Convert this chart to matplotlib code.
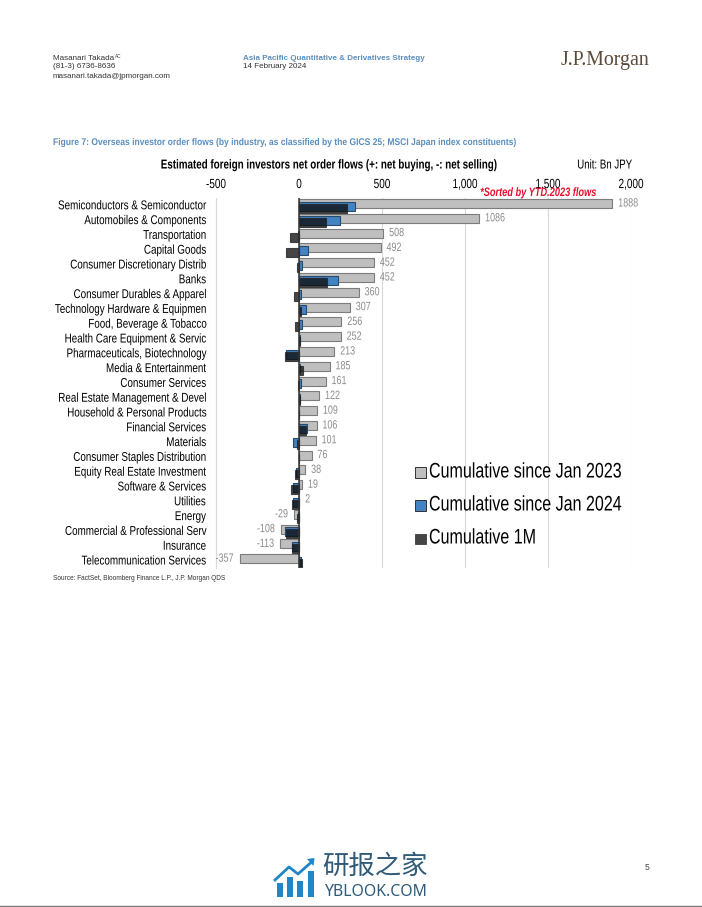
import matplotlib
matplotlib.use("Agg")
import matplotlib.pyplot as plt
from matplotlib.patches import Rectangle, Polygon
from matplotlib.patheffects import AbstractPathEffect
from matplotlib.transforms import Affine2D, Bbox

W, H = 702, 907

categories = ["Semiconductors & Semiconductor", "Automobiles & Components", "Transportation",
              "Capital Goods", "Consumer Discretionary Distrib", "Banks", "Consumer Durables & Apparel",
              "Technology Hardware & Equipmen", "Food, Beverage & Tobacco", "Health Care Equipment & Servic",
              "Pharmaceuticals, Biotechnology", "Media & Entertainment", "Consumer Services",
              "Real Estate Management & Devel", "Household & Personal Products", "Financial Services",
              "Materials", "Consumer Staples Distribution", "Equity Real Estate Investment",
              "Software & Services", "Utilities", "Energy", "Commercial & Professional Serv",
              "Insurance", "Telecommunication Services"]
since_2023 = [1888, 1086, 508, 492, 452, 452, 360, 307, 256, 252, 213, 185, 161, 122, 109, 106, 101, 76, 38, 19, 2, -29, -108, -113, -357]
since_2024 = [337, 247, -5, 55, 20, 235, 10, 40, 20, 5, -78, 5, 15, 5, 0, 50, -37, -3, -20, -35, -35, -5, -85, -40, 15]
one_month = [287, 165, -55, -78, -15, 170, -30, 10, -25, 8, -85, 22, -5, 8, 2, 40, -10, 2, -25, -48, -40, -12, -78, -45, 18]
x_ticks = [-500, 0, 500, 1000, 1500, 2000]
x_tick_labels = ["-500", "0", "500", "1,000", "1,500", "2,000"]
legend_labels = ["Cumulative since Jan 2023", "Cumulative since Jan 2024", "Cumulative 1M"]

GREY, BLUE, BLACK = "#bfbfbf", "#4283c4", "#101010"
plt.rcParams['font.family'] = ['Liberation Sans', 'DejaVu Sans']
fig = plt.figure(figsize=(W / 100, H / 100), dpi=100)


class Squeeze(AbstractPathEffect):
    """Condense drawn text horizontally about a pixel x (no narrow face is installed)."""
    def __init__(self, sx, x0, dy=0):
        super().__init__()
        self.sx, self.x0, self.dy = sx, x0, dy

    def draw_path(self, renderer, gc, tpath, affine, rgbFace=None):
        a = affine + Affine2D().translate(-self.x0, self.dy).scale(self.sx, 1).translate(self.x0, 0)
        renderer.draw_path(gc, tpath, a, rgbFace)


def squeeze(t, sx, x0, dy=0):
    t.set_path_effects([Squeeze(sx, x0, dy)])
    orig = t.get_window_extent

    def ext(renderer=None, dpi=None):
        b = orig(renderer, dpi)
        return Bbox.from_extents(x0 + (b.x0 - x0) * sx, b.y0 + dy, x0 + (b.x1 - x0) * sx, b.y1 + dy)
    t.get_window_extent = ext
    return t


def fx(x): return x / W
def fy(y): return 1 - y / H
def T(x, y, s, size, color='k', ha='left', va='center', sx=None, **kw):
    t = fig.text(fx(x), fy(y), s, fontsize=size, color=color, ha=ha, va=va, **kw)
    if sx:
        squeeze(t, sx, x)
    return t


left, right, top, bottom = 216, 631, 198, 568
ax = fig.add_axes([fx(left), fy(bottom), (right - left) / W, (bottom - top) / H])
pitch = 14.8
ax.set_xlim(-500, 2000)
ax.set_ylim((bottom - 206) / pitch, (top - 206) / pitch)
ax.set_facecolor('none')
ys = list(range(len(categories)))
off_g, off_k = 2.5 / pitch, 2.1 / pitch
ax.barh([y - off_g for y in ys], since_2023, height=9 / pitch, color=GREY, edgecolor="#7c7c7c", linewidth=0.8, zorder=2)
ax.barh(ys, since_2024, height=9 / pitch, color=BLUE, edgecolor="#2a4a66", linewidth=0.8, zorder=3)
ax.barh([y + off_k for y in ys], one_month, height=9 / pitch, color=BLACK, alpha=0.78, edgecolor="#222222", linewidth=0.8, zorder=4)
ax.set_xticks(x_ticks)
ax.set_xticklabels(x_tick_labels, fontsize=9.6)
ax.xaxis.tick_top()
ax.tick_params(axis='x', length=0, pad=5)
ax.tick_params(axis='y', length=0, pad=7.2)
ax.set_yticks(ys)
ax.set_yticklabels(categories, fontsize=9.2)
for lab, v in zip(ax.get_xticklabels(), x_ticks):
    squeeze(lab, 0.75, ax.transData.transform((v, 0))[0])
for lab in ax.get_yticklabels():
    squeeze(lab, 0.77, left - 10, dy=1.2)
for s in ['top', 'right', 'bottom']:
    ax.spines[s].set_visible(False)
ax.spines['left'].set_color('#d9d9d9')
ax.grid(axis='x', color='#d9d9d9', linewidth=0.8, zorder=0)
ax.set_axisbelow(True)
ax.axvline(0, color='#333333', linewidth=1.1, zorder=5)
for y, v in zip(ys, since_2023):
    anchor = v + 35 if v >= 0 else v - 38
    t = ax.text(anchor, y - off_g, str(v), fontsize=8.6, color='#8c8c8c',
                ha='left' if v >= 0 else 'right', va='center', zorder=6)
    squeeze(t, 0.75, ax.transData.transform((anchor, 0))[0])

# legend
for yy, c, lab, a in zip([472.5, 505.5, 538.5], [GREY, BLUE, BLACK], legend_labels, [1, 1, 0.78]):
    fig.add_artist(Rectangle((fx(415), fy(yy + 5.5)), 10.5 / W, 10.5 / H, transform=fig.transFigure,
                             facecolor=c, edgecolor='#333333', linewidth=0.7, alpha=a))
    T(429, yy - 0.5, lab, 15.2, sx=0.76)

# chart titles
T(53, 142, "Figure 7: Overseas investor order flows (by industry, as classified by the GICS 25; MSCI Japan index constituents)",
  7.0, color='#5b8fbf', weight='bold', sx=0.877)
T(328.5, 165.5, "Estimated foreign investors net order flows (+: net buying, -: net selling)", 9.3,
  ha='center', weight='bold', sx=0.76)
T(604.5, 165.5, "Unit: Bn JPY", 9.3, ha='center', sx=0.75)
T(538.5, 193, "*Sorted by YTD.2023 flows", 8.8, color='#e8112d', ha='center', weight='bold', style='italic', sx=0.755)
T(53, 578.5, "Source: FactSet, Bloomberg Finance L.P., J.P. Morgan QDS", 4.7, color='#333333')

# page header
T(53, 58, "Masanari Takada", 5.8, color='#333333')
T(115, 56, "AC", 3.4, color='#444444')
T(53, 67, "(81-3) 6736-8636", 5.8, color='#333333')
T(53, 76, "masanari.takada@jpmorgan.com", 5.8, color='#333333')
T(243, 58, "Asia Pacific Quantitative & Derivatives Strategy", 5.75, color='#5b8fbf', weight='bold')
T(243, 67, "14 February 2024", 5.8, color='#333333')
T(605, 60, "J.P.Morgan", 14.3, color='#5c4a3a', ha='center', family='Liberation Serif')

# page footer
T(647, 868, "5", 6.2, color='#444444', ha='center')
LOGO = '#1f86c8'
for x0, x1, y0 in [(277, 282.5, 883), (287, 293, 877), (297, 303, 881), (308, 313.5, 871)]:
    fig.add_artist(Rectangle((fx(x0), fy(896.5)), (x1 - x0) / W, (896.5 - y0) / H, transform=fig.transFigure,
                             facecolor=LOGO, edgecolor='none'))
fig.add_artist(plt.Line2D([fx(275), fx(289), fx(298), fx(311)], [fy(880), fy(867), fy(874), fy(862.5)],
                          color=LOGO, linewidth=2.0))
fig.add_artist(Polygon([(fx(307), fy(859)), (fx(314.5), fy(858)), (fx(313.5), fy(866))], closed=True,
                       transform=fig.transFigure, facecolor=LOGO, edgecolor='none'))
T(374.5, 866, "研报之家", 19, color='#2f5a78', ha='center', family=['Noto Sans CJK SC', 'DejaVu Sans'])
T(375, 892, "YBLOOK.COM", 11.4, color='#2f5a78', ha='center', family='Noto Sans')
fig.add_artist(plt.Line2D([0, 1], [fy(906.2), fy(906.2)], color='#777777', linewidth=1))

fig.savefig("out.png", dpi=100)
